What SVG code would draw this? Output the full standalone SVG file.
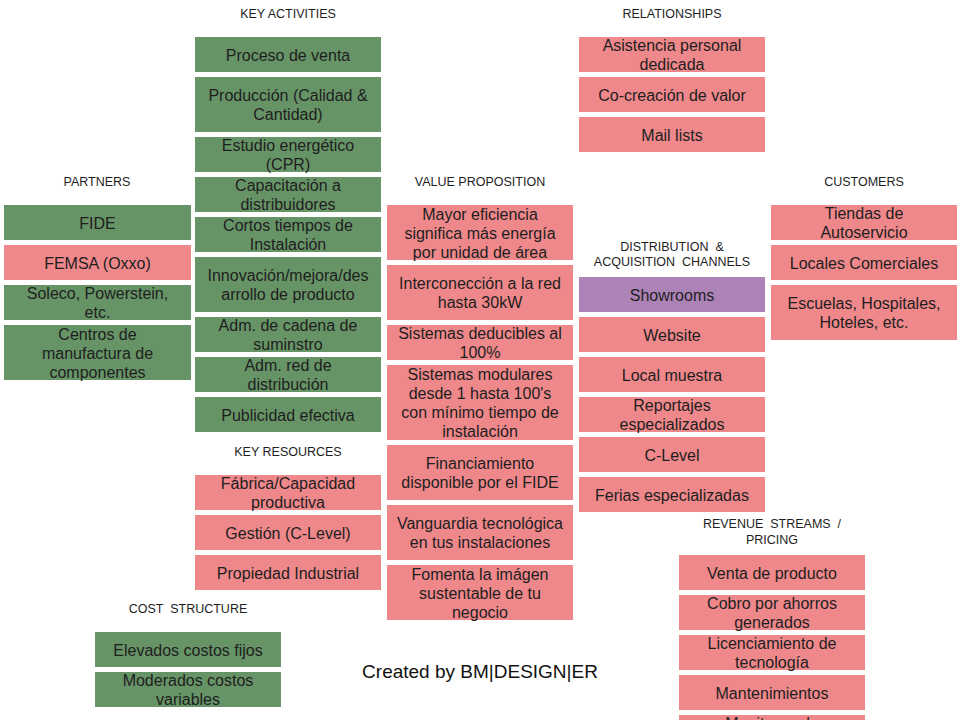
<svg xmlns="http://www.w3.org/2000/svg" width="960" height="720" viewBox="0 0 960 720">
<style>
.g{fill:#679467}
.p{fill:#ef888b}
.v{fill:#ad82b6}
.t{font-family:"Liberation Sans",Arial,sans-serif;font-size:16px;fill:#1e1e1e;text-anchor:middle}
.h{font-family:"Liberation Sans",Arial,sans-serif;font-size:12.5px;fill:#1e1e1e;text-anchor:middle;white-space:pre}
.c{font-family:"Liberation Sans",Arial,sans-serif;font-size:19px;fill:#111;text-anchor:middle}
</style>
<rect width="960" height="720" fill="#fff"/>
<g id="labels">
<text class="h" x="288" y="18" xml:space="preserve">KEY ACTIVITIES</text>
<text class="h" x="672" y="18">RELATIONSHIPS</text>
<text class="h" x="97" y="186">PARTNERS</text>
<text class="h" x="480" y="186">VALUE PROPOSITION</text>
<text class="h" x="864" y="186">CUSTOMERS</text>
<text class="h" x="672" y="250.5" xml:space="preserve">DISTRIBUTION  &amp;</text>
<text class="h" x="672" y="265.5" xml:space="preserve">ACQUISITION  CHANNELS</text>
<text class="h" x="288" y="456">KEY RESOURCES</text>
<text class="h" x="188" y="613" xml:space="preserve">COST  STRUCTURE</text>
<text class="h" x="772" y="528" xml:space="preserve">REVENUE  STREAMS  /</text>
<text class="h" x="772" y="544">PRICING</text>
<text class="c" x="480" y="678">Created by BM|DESIGN|ER</text>
</g>
<g id="connectors"/>
<g id="ka1"><rect class="g" x="195" y="37" width="186" height="35"/><text class="t" x="288" y="60.5">Proceso de venta</text></g>
<g id="ka2"><rect class="g" x="195" y="77" width="186" height="55"/><text class="t" x="288" y="101">Producción (Calidad &amp;</text><text class="t" x="288" y="120">Cantidad)</text></g>
<g id="ka3"><rect class="g" x="195" y="137" width="186" height="35"/><text class="t" x="288" y="151">Estudio energético</text><text class="t" x="288" y="170">(CPR)</text></g>
<g id="ka4"><rect class="g" x="195" y="177" width="186" height="35"/><text class="t" x="288" y="191">Capacitación a</text><text class="t" x="288" y="210">distribuidores</text></g>
<g id="ka5"><rect class="g" x="195" y="217" width="186" height="35"/><text class="t" x="288" y="231">Cortos tiempos de</text><text class="t" x="288" y="250">Instalación</text></g>
<g id="ka6"><rect class="g" x="195" y="257" width="186" height="55"/><text class="t" x="288" y="281">Innovación/mejora/des</text><text class="t" x="288" y="300">arrollo de producto</text></g>
<g id="ka7"><rect class="g" x="195" y="317" width="186" height="35"/><text class="t" x="288" y="331">Adm. de cadena de</text><text class="t" x="288" y="350">suminstro</text></g>
<g id="ka8"><rect class="g" x="195" y="357" width="186" height="35"/><text class="t" x="288" y="371">Adm. red de</text><text class="t" x="288" y="390">distribución</text></g>
<g id="ka9"><rect class="g" x="195" y="397" width="186" height="35"/><text class="t" x="288" y="420.5">Publicidad efectiva</text></g>
<g id="kr1"><rect class="p" x="195" y="475" width="186" height="35"/><text class="t" x="288" y="489">Fábrica/Capacidad</text><text class="t" x="288" y="508">productiva</text></g>
<g id="kr2"><rect class="p" x="195" y="515" width="186" height="35"/><text class="t" x="288" y="538.5">Gestión (C-Level)</text></g>
<g id="kr3"><rect class="p" x="195" y="555" width="186" height="35"/><text class="t" x="288" y="578.5">Propiedad Industrial</text></g>
<g id="pa1"><rect class="g" x="4" y="205" width="187" height="35"/><text class="t" x="97.5" y="228.5">FIDE</text></g>
<g id="pa2"><rect class="p" x="4" y="245" width="187" height="35"/><text class="t" x="97.5" y="268.5">FEMSA (Oxxo)</text></g>
<g id="pa3"><rect class="g" x="4" y="285" width="187" height="35"/><text class="t" x="97.5" y="299">Soleco, Powerstein,</text><text class="t" x="97.5" y="318">etc.</text></g>
<g id="pa4"><rect class="g" x="4" y="325" width="187" height="55"/><text class="t" x="97.5" y="339.5">Centros de</text><text class="t" x="97.5" y="358.5">manufactura de</text><text class="t" x="97.5" y="377.5">componentes</text></g>
<g id="vp1"><rect class="p" x="387" y="205" width="186" height="55"/><text class="t" x="480" y="219.5">Mayor eficiencia</text><text class="t" x="480" y="238.5">significa más energía</text><text class="t" x="480" y="257.5">por unidad de área</text></g>
<g id="vp2"><rect class="p" x="387" y="265" width="186" height="55"/><text class="t" x="480" y="289">Interconección a la red</text><text class="t" x="480" y="308">hasta 30kW</text></g>
<g id="vp3"><rect class="p" x="387" y="325" width="186" height="35"/><text class="t" x="480" y="339">Sistemas deducibles al</text><text class="t" x="480" y="358">100%</text></g>
<g id="vp4"><rect class="p" x="387" y="365" width="186" height="75"/><text class="t" x="480" y="380">Sistemas modulares</text><text class="t" x="480" y="399">desde 1 hasta 100's</text><text class="t" x="480" y="418">con mínimo tiempo de</text><text class="t" x="480" y="437">instalación</text></g>
<g id="vp5"><rect class="p" x="387" y="445" width="186" height="55"/><text class="t" x="480" y="469">Financiamiento</text><text class="t" x="480" y="488">disponible por el FIDE</text></g>
<g id="vp6"><rect class="p" x="387" y="505" width="186" height="55"/><text class="t" x="480" y="529">Vanguardia tecnológica</text><text class="t" x="480" y="548">en tus instalaciones</text></g>
<g id="vp7"><rect class="p" x="387" y="565" width="186" height="55"/><text class="t" x="480" y="579.5">Fomenta la imágen</text><text class="t" x="480" y="598.5">sustentable de tu</text><text class="t" x="480" y="617.5">negocio</text></g>
<g id="re1"><rect class="p" x="579" y="37" width="186" height="35"/><text class="t" x="672" y="51">Asistencia personal</text><text class="t" x="672" y="70">dedicada</text></g>
<g id="re2"><rect class="p" x="579" y="77" width="186" height="35"/><text class="t" x="672" y="100.5">Co-creación de valor</text></g>
<g id="re3"><rect class="p" x="579" y="117" width="186" height="35"/><text class="t" x="672" y="140.5">Mail lists</text></g>
<g id="ch1"><rect class="v" x="579" y="277" width="186" height="35"/><text class="t" x="672" y="300.5">Showrooms</text></g>
<g id="ch2"><rect class="p" x="579" y="317" width="186" height="35"/><text class="t" x="672" y="340.5">Website</text></g>
<g id="ch3"><rect class="p" x="579" y="357" width="186" height="35"/><text class="t" x="672" y="380.5">Local muestra</text></g>
<g id="ch4"><rect class="p" x="579" y="397" width="186" height="35"/><text class="t" x="672" y="411">Reportajes</text><text class="t" x="672" y="430">especializados</text></g>
<g id="ch5"><rect class="p" x="579" y="437" width="186" height="35"/><text class="t" x="672" y="460.5">C-Level</text></g>
<g id="ch6"><rect class="p" x="579" y="477" width="186" height="35"/><text class="t" x="672" y="500.5">Ferias especializadas</text></g>
<g id="cu1"><rect class="p" x="771" y="205" width="186" height="35"/><text class="t" x="864" y="219">Tiendas de</text><text class="t" x="864" y="238">Autoservicio</text></g>
<g id="cu2"><rect class="p" x="771" y="245" width="186" height="35"/><text class="t" x="864" y="268.5">Locales Comerciales</text></g>
<g id="cu3"><rect class="p" x="771" y="285" width="186" height="55"/><text class="t" x="864" y="309">Escuelas, Hospitales,</text><text class="t" x="864" y="328">Hoteles, etc.</text></g>
<g id="rs1"><rect class="p" x="679" y="555" width="186" height="35"/><text class="t" x="772" y="578.5">Venta de producto</text></g>
<g id="rs2"><rect class="p" x="679" y="595" width="186" height="35"/><text class="t" x="772" y="609">Cobro por ahorros</text><text class="t" x="772" y="628">generados</text></g>
<g id="rs3"><rect class="p" x="679" y="635" width="186" height="35"/><text class="t" x="772" y="649">Licenciamiento de</text><text class="t" x="772" y="668">tecnología</text></g>
<g id="rs4"><rect class="p" x="679" y="675" width="186" height="35"/><text class="t" x="772" y="698.5">Mantenimientos</text></g>
<g id="rs5"><rect class="p" x="679" y="715" width="186" height="35"/><text class="t" x="772" y="729">Monitoreo de</text></g>
<g id="cs1"><rect class="g" x="95" y="632" width="186" height="35"/><text class="t" x="188" y="655.5">Elevados costos fijos</text></g>
<g id="cs2"><rect class="g" x="95" y="672" width="186" height="35"/><text class="t" x="188" y="686">Moderados costos</text><text class="t" x="188" y="705">variables</text></g>
</svg>
